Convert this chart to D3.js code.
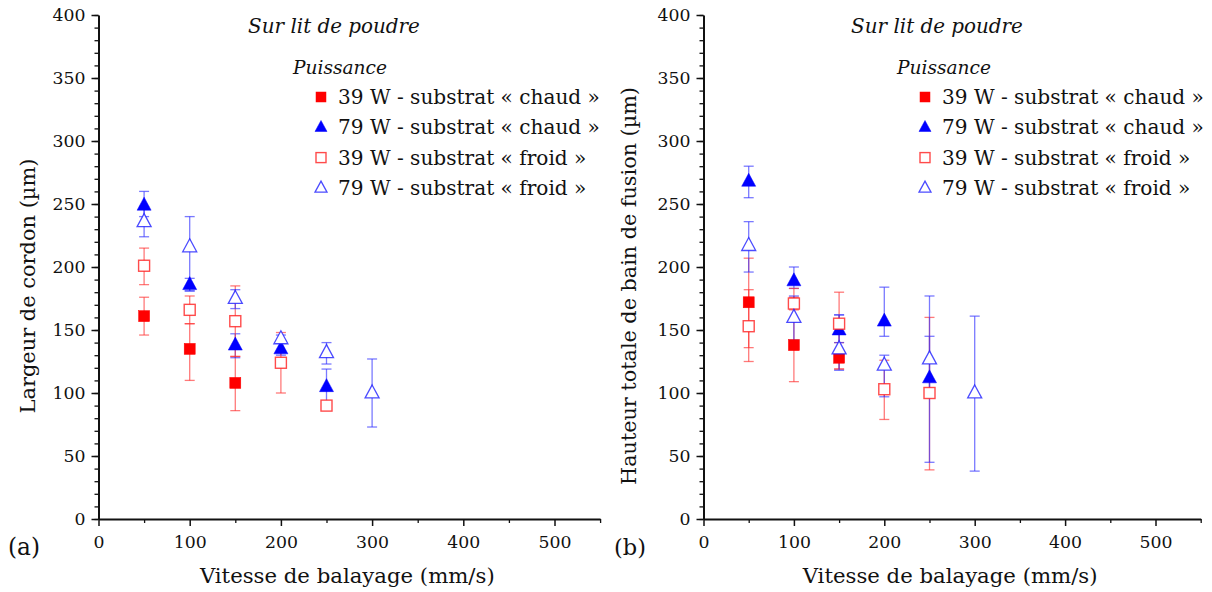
<!DOCTYPE html>
<html><head><meta charset="utf-8">
<script src="https://cdn.jsdelivr.net/npm/d3@7"></script>
<style>body{margin:0;background:#fff}text{font-family:"DejaVu Serif",serif;fill:#111}</style>
</head><body><svg id="c" width="1212" height="592"></svg>
<script>
// ---- data ----
const speeds = [50, 100, 150, 200, 250, 300];
const seriesNames = ["39 W - substrat « chaud »", "79 W - substrat « chaud »", "39 W - substrat « froid »", "79 W - substrat « froid »"];
// Panel (a): Largeur de cordon (µm)  [value, errLow, errHigh], null = no point
const widthHot39  = [[161,146,176],[135,110,155],[108,86,129],null,null,null];
const widthHot79  = [[249,240,260],[186,181,191],[138,128,147],[135,130,140],[105,88,119],null];
const widthCold39 = [[201,186,215],[166,155,177],[157,129,185],[124,100,148],[90,87,93],null];
const widthCold79 = [[236,224,248],[216,181,240],[175,167,182],[143,140,146],[132,123,140],[100,73,127]];
// Panel (b): Hauteur totale de bain de fusion (µm)
const heightHot39  = [[172,136,207],[138,109,176],[128,119,140],null,null,null];
const heightHot79  = [[268,255,280],[189,183,200],[150,140,162],[157,145,184],[112,97,145],null];
const heightCold39 = [[153,125,182],[171,166,183],[155,119,180],[103,79,126],[100,39,160],null];
const heightCold79 = [[217,196,236],[160,142,177],[135,118,162],[122,97,130],[127,45,177],[100,38,161]];
const xTicks = [0,100,200,300,400,500];
const yTicks = [0,50,100,150,200,250,300,350,400];

const svg = d3.select("#c");
const styles = [
  {shape:"square", fill:"#ff0000", stroke:"#ff0000", err:"rgba(255,50,50,0.65)"},
  {shape:"triangle", fill:"#0000ff", stroke:"#0000ff", err:"rgba(50,50,255,0.65)"},
  {shape:"square", fill:"#fff", stroke:"rgba(255,30,30,0.8)", err:"rgba(255,50,50,0.65)"},
  {shape:"triangle", fill:"#fff", stroke:"rgba(30,30,255,0.8)", err:"rgba(50,50,255,0.65)"}
];

// scale font so the text spans a given width
function fit(sel, w){
  sel.attr("font-size",20);
  const l = sel.node().getComputedTextLength();
  sel.attr("font-size", 20*w/l);
  return sel;
}

function marker(g, st, cx, cy, big){
  if(st.shape==="square"){
    const s = big?11:10;
    g.append("rect").attr("x",cx-s/2).attr("y",cy-s/2).attr("width",s).attr("height",s)
      .attr("fill",st.fill).attr("stroke",st.stroke).attr("stroke-width",st.fill==="#fff"?1.4:0.5);
  } else {
    const w = big?14:12, h = big?13:11;
    g.append("path").attr("d",`M${cx},${cy-h*0.62}L${cx+w/2},${cy+h*0.38}L${cx-w/2},${cy+h*0.38}Z`)
      .attr("fill",st.fill).attr("stroke",st.stroke).attr("stroke-width",st.fill==="#fff"?1.3:0.5);
  }
}

function panel(opt){
  const x = d3.scaleLinear().domain([0,550]).range([opt.x0, opt.x0 + 550*opt.pxPer]);
  const y = d3.scaleLinear().domain([0,400]).range([519,15]);
  const g = svg.append("g");
  // minor ticks
  g.append("g").attr("transform",`translate(${opt.x0},0)`)
    .call(d3.axisLeft(y).tickValues(d3.range(0,401,10)).tickSize(4).tickFormat(""))
    .call(a=>a.select(".domain").remove()).selectAll("line").attr("stroke","#111").attr("stroke-width",1.3);
  g.append("g").attr("transform",`translate(0,519)`)
    .call(d3.axisBottom(x).tickValues(d3.range(50,551,100)).tickSize(4).tickFormat(""))
    .call(a=>a.select(".domain").remove()).selectAll("line").attr("stroke","#111").attr("stroke-width",1.3);
  // major axes
  const ya = g.append("g").attr("transform",`translate(${opt.x0},0)`)
    .call(d3.axisLeft(y).tickValues(yTicks).tickSize(7).tickPadding(6).tickSizeOuter(0));
  const xa = g.append("g").attr("transform",`translate(0,519)`)
    .call(d3.axisBottom(x).tickValues(xTicks).tickSize(7).tickPadding(10).tickSizeOuter(0));
  const tickFs = (()=>{ const t = g.append("text").text("400"); fit(t,33); const f = +t.attr("font-size"); t.remove(); return f; })();
  [ya,xa].forEach(a=>{
    a.select(".domain").attr("stroke","#111").attr("stroke-width",2);
    a.selectAll("line").attr("stroke","#111").attr("stroke-width",1.5);
    a.selectAll("text").attr("font-family","DejaVu Serif").attr("font-size",tickFs).attr("fill","#111");
  });
  // axis titles
  fit(g.append("text").attr("x",(x(0)+x(550))/2 - 2).attr("y",583).attr("text-anchor","middle")
    .text("Vitesse de balayage (mm/s)"), 295);
  fit(g.append("text").attr("transform",`translate(${opt.yTitleX},286) rotate(-90)`)
    .attr("text-anchor","middle").text(opt.yTitle), opt.yTitleW);
  fit(g.append("text").attr("x",opt.labelX).attr("y",555).text(opt.label), 32);
  // title & legend
  fit(g.append("text").attr("x",opt.titleX).attr("y",33).attr("text-anchor","middle")
    .attr("font-style","italic").text("Sur lit de poudre"), 172);
  fit(g.append("text").attr("x",opt.legX-28).attr("y",74)
    .attr("font-style","italic").text("Puissance"), 94);
  seriesNames.forEach((n,i)=>{
    const yy = 97 + i*30.3;
    marker(g, styles[i], opt.legX, yy, false);
    const t = g.append("text").attr("x",opt.legX+17).attr("y",yy+7).text(n);
    t.attr("font-size",20);
    if(i===0){ fit(t, 262); opt.legFs = +t.attr("font-size"); }
    t.attr("font-size", opt.legFs);
  });
  // data
  opt.series.forEach((ser,i)=>{
    const st = styles[i];
    const eg = g.append("g");
    ser.forEach((d,j)=>{
      if(!d) return;
      const cx = x(speeds[j]);
      eg.append("line").attr("x1",cx).attr("x2",cx).attr("y1",y(d[1])).attr("y2",y(d[2])).attr("stroke",st.err).attr("stroke-width",1.3);
      [d[1],d[2]].forEach(v=>eg.append("line").attr("x1",cx-5).attr("x2",cx+5).attr("y1",y(v)).attr("y2",y(v)).attr("stroke",st.err).attr("stroke-width",1.3));
    });
  });
  opt.series.forEach((ser,i)=>{
    ser.forEach((d,j)=>{ if(d) marker(g, styles[i], x(speeds[j]), y(d[0]), true); });
  });
}

panel({x0:98.5, pxPer:0.912, series:[widthHot39,widthHot79,widthCold39,widthCold79],
  yTitle:"Largeur de cordon (µm)", yTitleX:35, yTitleW:255, label:"(a)", labelX:8, titleX:334, legX:321});
panel({x0:703.5, pxPer:0.904, series:[heightHot39,heightHot79,heightCold39,heightCold79],
  yTitle:"Hauteur totale de bain de fusion (µm)", yTitleX:636, yTitleW:398, label:"(b)", labelX:614, titleX:937, legX:925});
</script></body></html>
